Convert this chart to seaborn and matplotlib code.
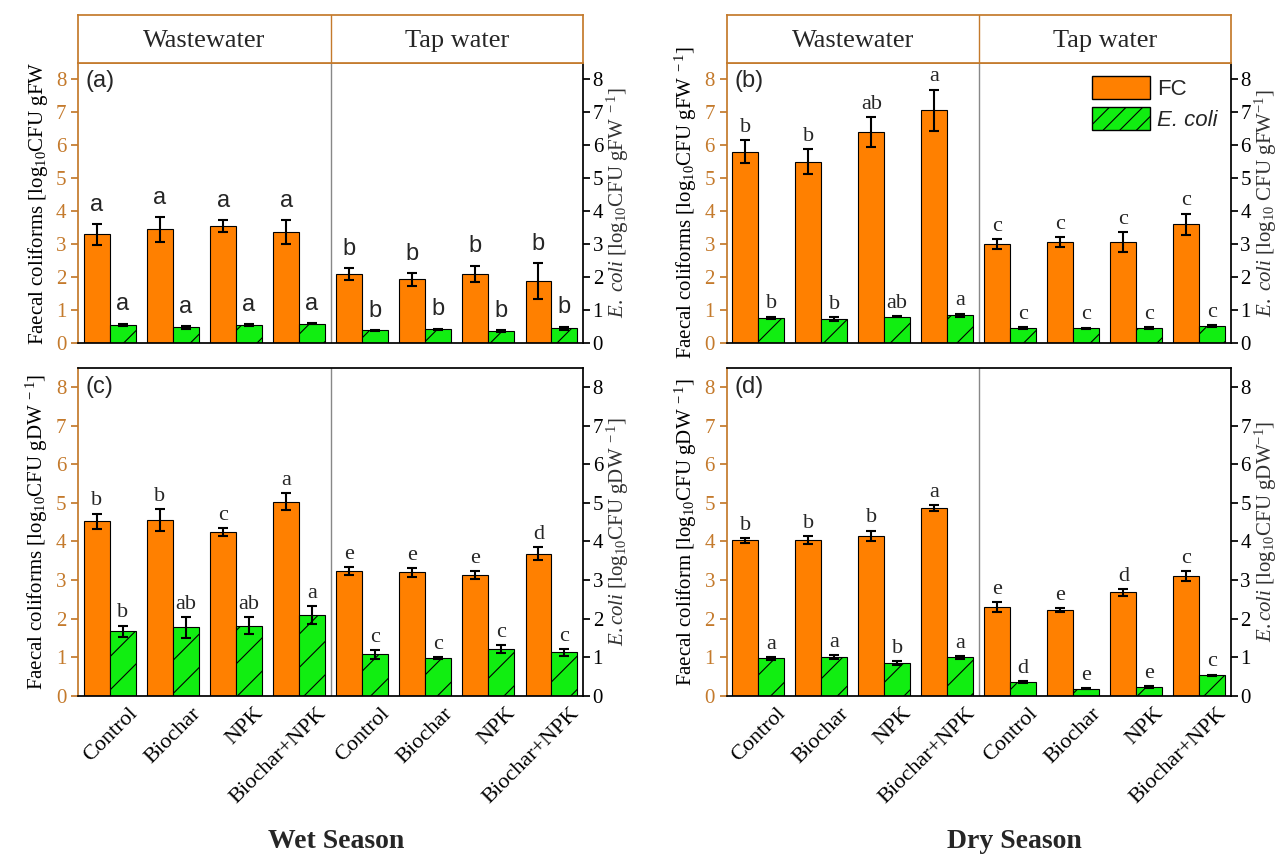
import numpy as np
import pandas as pd
import matplotlib.pyplot as plt
import seaborn as sns
from matplotlib.patches import Patch
from matplotlib.transforms import ScaledTranslation

sns.set_theme(style='ticks')
plt.rcParams['font.family'] = ['Liberation Serif', 'DejaVu Serif']
plt.rcParams['mathtext.fontset'] = 'custom'
plt.rcParams['mathtext.rm'] = 'Liberation Serif'
plt.rcParams['mathtext.it'] = 'Liberation Serif:italic'
plt.rcParams['hatch.linewidth'] = 0.8

ORANGE = '#FF8000'
GREEN = '#11EE11'
BROWN = '#C47A2C'

waters = ['Wastewater', 'Tap water']
treatments = ['Control', 'Biochar', 'NPK', 'Biochar+NPK']
positions = [w + '|' + t for w in waters for t in treatments]

# (a) wet season, fresh weight
a_fc = [3.30, 3.45, 3.55, 3.38, 2.10, 1.93, 2.10, 1.88]
a_fc_sd = [0.32, 0.38, 0.18, 0.36, 0.18, 0.20, 0.25, 0.55]
a_ec = [0.55, 0.48, 0.55, 0.59, 0.38, 0.41, 0.37, 0.45]
a_ec_sd = [0.04, 0.04, 0.03, 0.02, 0.02, 0.03, 0.03, 0.05]
a_fc_let = ['a', 'a', 'a', 'a', 'b', 'b', 'b', 'b']
a_ec_let = ['a', 'a', 'a', 'a', 'b', 'b', 'b', 'b']

# (b) dry season, fresh weight
b_fc = [5.80, 5.50, 6.40, 7.07, 3.00, 3.07, 3.07, 3.60]
b_fc_sd = [0.35, 0.38, 0.45, 0.62, 0.15, 0.15, 0.30, 0.33]
b_ec = [0.76, 0.73, 0.80, 0.84, 0.45, 0.45, 0.45, 0.52]
b_ec_sd = [0.04, 0.06, 0.02, 0.05, 0.03, 0.02, 0.04, 0.03]
b_fc_let = ['b', 'b', 'ab', 'a', 'c', 'c', 'c', 'c']
b_ec_let = ['b', 'b', 'ab', 'a', 'c', 'c', 'c', 'c']

# (c) wet season, dry weight
c_fc = [4.52, 4.55, 4.25, 5.03, 3.23, 3.20, 3.12, 3.68]
c_fc_sd = [0.20, 0.28, 0.10, 0.22, 0.10, 0.12, 0.10, 0.17]
c_ec = [1.67, 1.77, 1.82, 2.10, 1.07, 0.98, 1.22, 1.13]
c_ec_sd = [0.15, 0.28, 0.22, 0.23, 0.12, 0.03, 0.10, 0.09]
c_fc_let = ['b', 'b', 'c', 'a', 'e', 'e', 'e', 'd']
c_ec_let = ['b', 'ab', 'ab', 'a', 'c', 'c', 'c', 'c']

# (d) dry season, dry weight
d_fc = [4.03, 4.03, 4.15, 4.86, 2.30, 2.22, 2.68, 3.10]
d_fc_sd = [0.06, 0.10, 0.13, 0.07, 0.13, 0.06, 0.09, 0.13]
d_ec = [0.97, 1.00, 0.85, 1.00, 0.35, 0.18, 0.23, 0.53]
d_ec_sd = [0.04, 0.05, 0.06, 0.04, 0.03, 0.01, 0.02, 0.02]
d_fc_let = ['b', 'b', 'b', 'a', 'e', 'e', 'd', 'c']
d_ec_let = ['a', 'a', 'b', 'a', 'd', 'e', 'e', 'c']

fig = plt.figure(figsize=(12.84, 8.59), dpi=100)

LEFT = [0.061, 0.566]
WIDTH = [0.393, 0.3925]
TOP_B, TOP_H = 0.6007, 0.326
BOT_B, BOT_H = 0.19, 0.382


def draw_panel(ax, fc, fc_sd, ec, ec_sd, fc_let, ec_let, tag, let_font, let_size, let_pad,
               ylab_l, ylab_r, bottom_row):
    df = pd.DataFrame({'pos': positions * 2,
                       'value': fc + ec,
                       'var': ['FC'] * 8 + ['E. coli'] * 8})
    sns.barplot(data=df, x='pos', y='value', hue='var', order=positions,
                hue_order=['FC', 'E. coli'], palette=[ORANGE, GREEN], saturation=1,
                width=0.82, edgecolor='black', linewidth=0.8,
                errorbar=None, legend=False, ax=ax)
    for p in ax.containers[1]:
        p.set_hatch('/')
    for cont, sd, lets in zip(ax.containers, [fc_sd, ec_sd], [fc_let, ec_let]):
        xs = [p.get_x() + p.get_width() / 2 for p in cont]
        hs = [p.get_height() for p in cont]
        ax.errorbar(xs, hs, yerr=sd, fmt='none', ecolor='black', elinewidth=1.5,
                    capsize=3.5, capthick=1.5, zorder=5)
        for x, h, s, l in zip(xs, hs, sd, lets):
            ax.text(x, h + s + let_pad, l, ha='center', va='bottom', fontsize=let_size,
                    family=let_font)
    ax.axvline(3.5, color='#888888', lw=1)
    ax.set_xlim(-0.5, 7.5)
    ax.set_ylim(0, 8.5)
    ax.set_yticks(range(9))
    ax.tick_params(axis='y', direction='out', length=5, colors=BROWN, labelsize=15)
    ax.set_ylabel(ylab_l, fontsize=15, color='black')
    ax.set_xlabel('')
    ax.spines['left'].set_color(BROWN)
    ax.spines['right'].set_visible(False)
    ax.spines['bottom'].set_color('black')
    ax.spines['top'].set_color(BROWN if not bottom_row else 'black')
    ax.text(0.015, 0.975, tag, transform=ax.transAxes, ha='left', va='top',
            fontsize=17, family='Liberation Sans')
    ax.set_xticks(range(8))
    if bottom_row:
        ax.set_xticklabels(treatments * 2, rotation=45, ha='right',
                           rotation_mode='anchor', fontsize=16)
        ax.tick_params(axis='x', length=0, pad=6, labelcolor='black')
        for lab in ax.get_xticklabels():
            lab.set_transform(lab.get_transform() + ScaledTranslation(0.18, 0, fig.dpi_scale_trans))
    else:
        ax.set_xticklabels([])
        ax.tick_params(axis='x', length=0)

    tw = ax.twinx()
    tw.set_ylim(0, 8.5)
    tw.set_yticks(range(9))
    tw.tick_params(axis='y', direction='out', length=5, colors='black', labelsize=15, pad=2)
    tw.set_ylabel(ylab_r, fontsize=15, color='#333333', labelpad=1)
    for s in ['left', 'top', 'bottom']:
        tw.spines[s].set_visible(False)
    tw.spines['right'].set_color('black')
    return tw


def draw_header(left, width):
    hax = fig.add_axes([left, TOP_B + TOP_H, width, 0.056])
    hax.set_xlim(-0.5, 7.5)
    hax.set_ylim(0, 1)
    hax.set_xticks([])
    hax.set_yticks([])
    for s in hax.spines.values():
        s.set_color(BROWN)
    hax.axvline(3.5, color=BROWN, lw=1)
    hax.text(1.5, 0.45, waters[0], ha='center', va='center', fontsize=19)
    hax.text(5.5, 0.45, waters[1], ha='center', va='center', fontsize=19)


ax_a = fig.add_axes([LEFT[0], TOP_B, WIDTH[0], TOP_H])
ax_b = fig.add_axes([LEFT[1], TOP_B, WIDTH[1], TOP_H])
ax_c = fig.add_axes([LEFT[0], BOT_B, WIDTH[0], BOT_H])
ax_d = fig.add_axes([LEFT[1], BOT_B, WIDTH[1], BOT_H])

draw_panel(ax_a, a_fc, a_fc_sd, a_ec, a_ec_sd, a_fc_let, a_ec_let, '(a)',
           'Liberation Sans', 17, 0.25,
           r'Faecal coliforms [log$_{10}$CFU gFW',
           r'$E.\ coli$ [log$_{10}$CFU gFW$^{\ -1}$]', False)
draw_panel(ax_b, b_fc, b_fc_sd, b_ec, b_ec_sd, b_fc_let, b_ec_let, '(b)',
           'Liberation Serif', 16, 0.1,
           r'Faecal coliforms [log$_{10}$CFU gFW$^{\ -1}$]',
           r'$E.\ coli$ [log$_{10}$ CFU gFW$^{-1}$]', False)
draw_panel(ax_c, c_fc, c_fc_sd, c_ec, c_ec_sd, c_fc_let, c_ec_let, '(c)',
           'Liberation Serif', 16, 0.08,
           r'Faecal coliforms [log$_{10}$CFU gDW$^{\ -1}$]',
           r'$E.coli$ [log$_{10}$CFU gDW$^{\ -1}$]', True)
draw_panel(ax_d, d_fc, d_fc_sd, d_ec, d_ec_sd, d_fc_let, d_ec_let, '(d)',
           'Liberation Serif', 16, 0.08,
           r'Faecal coliform [log$_{10}$CFU gDW$^{\ -1}$]',
           r'$E.coli$ [log$_{10}$CFU gDW$^{-1}$]', True)

draw_header(LEFT[0], WIDTH[0])
draw_header(LEFT[1], WIDTH[1])

handles = [Patch(facecolor=ORANGE, edgecolor='black'),
           Patch(facecolor=GREEN, edgecolor='black', hatch='//')]
leg = ax_b.legend(handles, ['FC', 'E. coli'], loc='upper right', frameon=False,
                  prop={'family': 'Liberation Sans', 'size': 16},
                  handlelength=2.6, handleheight=1.2, borderaxespad=0.2,
                  handletextpad=0.3, labelspacing=0.3)
leg.get_texts()[1].set_style('italic')

fig.text(0.262, 0.02, 'Wet Season', ha='center', va='center', fontsize=20,
         fontweight='bold')
fig.text(0.79, 0.02, 'Dry Season', ha='center', va='center', fontsize=20,
         fontweight='bold')

fig.savefig('out.png', dpi=100)
